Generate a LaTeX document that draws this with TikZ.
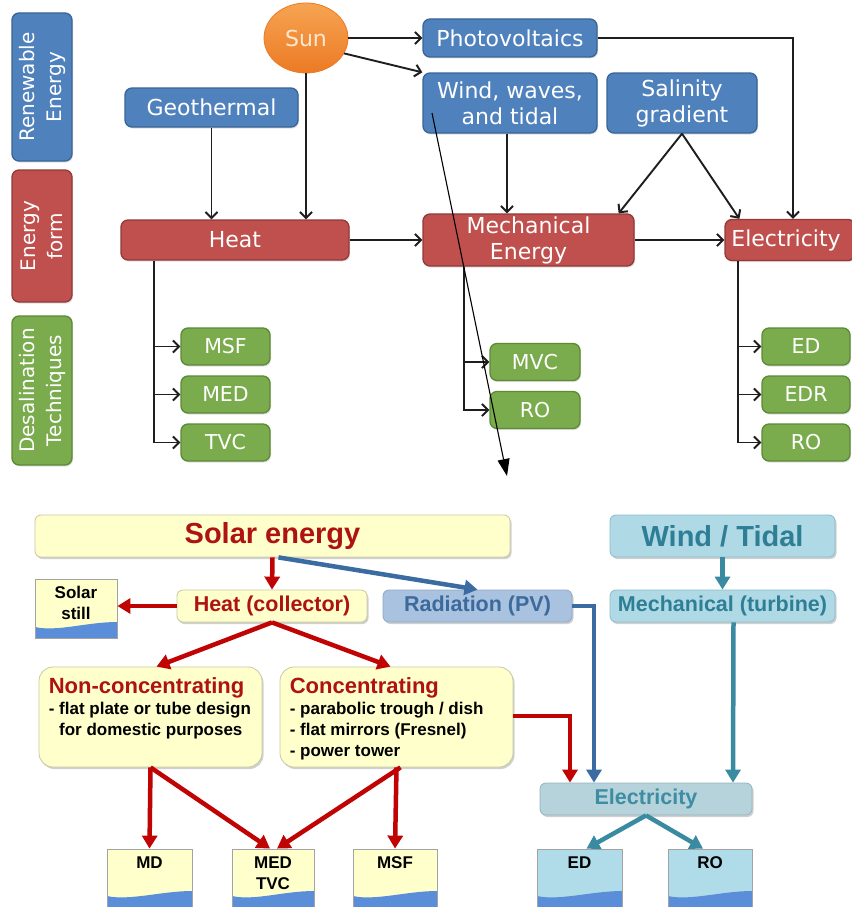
\documentclass[tikz,border=0pt]{standalone}
\usepackage{fontspec}
\setmainfont{Liberation Sans}
\newfontfamily\topfont{DejaVu Sans}
\usetikzlibrary{arrows.meta,calc,shapes.geometric,shadows}
\definecolor{tblue}{HTML}{4F81BD}
\definecolor{tblueD}{HTML}{3A6597}
\definecolor{tred}{HTML}{C0504D}
\definecolor{tredD}{HTML}{913A38}
\definecolor{tgreen}{HTML}{7AAB4C}
\definecolor{tgreenD}{HTML}{5C8A35}
\definecolor{sunA}{HTML}{F6A452}
\definecolor{sunB}{HTML}{EC7A24}
\definecolor{sunT}{HTML}{FDE8D2}
\definecolor{tline}{HTML}{1E1E1E}
\definecolor{yfill}{HTML}{FFFFCC}
\definecolor{yborder}{HTML}{C8C8A4}
\definecolor{dred}{HTML}{AE1212}
\definecolor{arred}{HTML}{C00404}
\definecolor{radfill}{HTML}{A9C2DF}
\definecolor{radborder}{HTML}{8DA7C6}
\definecolor{radtext}{HTML}{3C6A9C}
\definecolor{arblue}{HTML}{3A6CA2}
\definecolor{cyfill}{HTML}{AFD9E5}
\definecolor{cyborder}{HTML}{8CBCC9}
\definecolor{cytext}{HTML}{2E7E95}
\definecolor{arteal}{HTML}{3A8BA1}
\definecolor{elfill}{HTML}{B6D2DA}
\definecolor{elborder}{HTML}{94B3BD}
\definecolor{eltext}{HTML}{3D8DA3}
\definecolor{docblue}{HTML}{B0DCE9}
\definecolor{docborder}{HTML}{A3A3A3}
\definecolor{wavec}{HTML}{5A8ED8}
\tikzset{
  tbox/.style={rounded corners=7pt, inner sep=0pt, line width=1.3pt, text=white,
    font=\topfont\fontsize{22}{26}\selectfont, align=center,
    drop shadow={shadow xshift=1pt, shadow yshift=-1.5pt, opacity=0.2, fill=black!60}},
  blueb/.style={tbox, fill=tblue, draw=tblueD},
  redb/.style={tbox, fill=tred, draw=tredD},
  greenb/.style={tbox, fill=tgreen, draw=tgreenD, font=\topfont\fontsize{20.5}{24}\selectfont},
  sideb/.style={tbox, rotate=90, font=\topfont\fontsize{20}{27}\selectfont},
  tarr/.style={draw=tline, line width=1.9pt, -{Straight Barb[length=6pt,width=12pt,line width=2pt]}},
  thinarr/.style={draw=black, line width=1.1pt, -{Triangle[length=17pt,width=12pt]}},
  ybox/.style={rounded corners=6pt, inner sep=0pt, fill=yfill, draw=yborder, line width=0.8pt,
    drop shadow={shadow xshift=1.5pt, shadow yshift=-2pt, opacity=0.3, fill=black!60}},
  bigbox/.style={ybox, rounded corners=14pt},
  radb/.style={ybox, fill=radfill, draw=radborder, text=radtext},
  cyb/.style={ybox, fill=cyfill, draw=cyborder, text=cytext},
  elb/.style={ybox, fill=elfill, draw=elborder, text=eltext},
  rarr/.style={draw=arred, line width=4.5pt, -{Triangle[length=13pt,width=15pt]}},
  barr/.style={rarr, draw=arblue},
  carr/.style={rarr, draw=arteal},
  docb/.style={draw=docborder, line width=0.8pt, inner sep=0pt, fill=yfill,
    path picture={\fill[wavec] ([yshift=11pt]path picture bounding box.south west)
      .. controls +(22,5) and +(-30,0) .. ([yshift=16pt]path picture bounding box.south east)
      |- (path picture bounding box.south west) -- cycle;}},
  doctext/.style={inner sep=0pt, anchor=north, font=\bfseries\fontsize{17}{21}\selectfont, align=center},
}
\begin{document}
\begin{tikzpicture}[x=1pt,y=-1pt]
\useasboundingbox[fill=white] (0,0) rectangle (851,907);

% ---------------- top diagram ----------------
\node[sideb, fill=tblue, draw=tblueD, minimum width=148pt, minimum height=60pt] (re) at (42,87) {Renewable\\Energy};
\node[sideb, fill=tred, draw=tredD, minimum width=132pt, minimum height=60pt] (ef) at (42,236) {Energy\\form};
\node[sideb, fill=tgreen, draw=tgreenD, minimum width=149pt, minimum height=60pt] (dt) at (42,390.5) {Desalination\\Techniques};

\node[ellipse, inner sep=0pt, minimum width=84pt, minimum height=70pt, top color=sunA, bottom color=sunB,
  draw=sunB, line width=0.8pt, text=sunT, font=\topfont\fontsize{22}{26}\selectfont] (sun) at (306,38) {Sun};
\node[blueb, minimum width=173pt, minimum height=39pt] (geo) at (211.5,107.5) {Geothermal};
\node[blueb, minimum width=174pt, minimum height=38pt] (pv) at (510,38) {Photovoltaics};
\node[blueb, minimum width=174pt, minimum height=60pt] (wind) at (510,103) {Wind, waves,\\and tidal};
\node[blueb, minimum width=150pt, minimum height=60pt] (sal) at (682,103) {Salinity\\gradient};

\node[redb, minimum width=228pt, minimum height=40pt] (heat) at (235,240) {Heat};
\node[redb, minimum width=211pt, minimum height=52pt] (mech) at (528.5,240) {Mechanical\\Energy};
\node[redb, minimum width=130pt, minimum height=41pt] (elec) at (790,240) {\hspace*{-8pt}Electricity};

\node[greenb, minimum width=89pt, minimum height=37pt] (msf) at (225.5,346.5) {MSF};
\node[greenb, minimum width=89pt, minimum height=37pt] (med) at (225.5,394.5) {MED};
\node[greenb, minimum width=89pt, minimum height=37pt] (tvc) at (225.5,442.5) {TVC};
\node[greenb, minimum width=90pt, minimum height=37pt] (mvc) at (535,362) {MVC};
\node[greenb, minimum width=90pt, minimum height=37pt] (roa) at (535,410) {RO};
\node[greenb, minimum width=88pt, minimum height=37pt] (ed) at (806,346.5) {ED};
\node[greenb, minimum width=88pt, minimum height=37pt] (edr) at (806,394.5) {EDR};
\node[greenb, minimum width=88pt, minimum height=37pt] (rob) at (806,442.5) {RO};

\draw[tarr] (sun.east) -- (pv.west);
\draw[tarr] (sun.-22) -- (wind.north west);
\draw[tarr] (sun.south) -- (sun.south |- heat.north);
\draw[tarr] (geo.south) -- (geo.south |- heat.north);
\draw[tarr] ($(wind.south)+(-3,0)$) -- ($(wind.south |- mech.north)+(-3,0)$);
\draw[tarr] (sal.south) -- ($(mech.north east)+(-16,0)$);
\draw[tarr] (sal.south) -- ($(elec.north west)+(15,0)$);
\draw[tarr] (pv.east) -| ($(elec.north)+(3,0)$);
\draw[tarr] (heat.east) -- (mech.west);
\draw[tarr] (mech.east) -- (elec.west);
\draw[tarr] ($(heat.south west)+(34,0)$) |- (msf.west);
\draw[tarr] ($(heat.south west)+(34,0)$) |- (med.west);
\draw[tarr] ($(heat.south west)+(34,0)$) |- (tvc.west);
\draw[tarr] ($(mech.south west)+(42,0)$) |- (mvc.west);
\draw[tarr] ($(mech.south west)+(42,0)$) |- (roa.west);
\draw[tarr] ($(elec.south west)+(14,0)$) |- (ed.west);
\draw[tarr] ($(elec.south west)+(14,0)$) |- (edr.west);
\draw[tarr] ($(elec.south west)+(14,0)$) |- (rob.west);

\coordinate (zs) at (432,113);
\coordinate (ze) at (507,476);
\draw[thinarr] (zs) -- (ze);

% ---------------- bottom diagram ----------------
\node[ybox, minimum width=475pt, minimum height=42pt, text=dred, font=\bfseries\fontsize{29}{32}\selectfont] (solar) at (272.5,536) {Solar energy};
\node[cyb, minimum width=225pt, minimum height=42pt, font=\bfseries\fontsize{29}{32}\selectfont] (wt) at (722.5,536) {Wind / Tidal};
\node[ybox, minimum width=190pt, minimum height=32pt, text=dred, font=\bfseries\fontsize{21.5}{24}\selectfont] (hc) at (272,606) {Heat (collector)};
\node[radb, minimum width=189pt, minimum height=32pt, font=\bfseries\fontsize{21.5}{24}\selectfont] (rad) at (477.5,606) {Radiation (PV)};
\node[cyb, minimum width=225pt, minimum height=32pt, font=\bfseries\fontsize{21.5}{24}\selectfont] (mt) at (722.5,606) {Mechanical (turbine)};
\node[bigbox, minimum width=223pt, minimum height=100pt] (nonc) at (150.5,717) {};
\node[bigbox, minimum width=233pt, minimum height=100pt] (conc) at (396.5,717) {};
\node[elb, minimum width=212pt, minimum height=32pt, font=\bfseries\fontsize{21.5}{24}\selectfont] (belec) at (646,799) {Electricity};

\node[inner sep=0pt, anchor=north west, align=left, font=\bfseries\fontsize{17}{21}\selectfont] (nonct)
  at ($(nonc.north west)+(10,11)$) {{\fontsize{22}{23}\selectfont\color{dred}Non-concentrating}\\- flat plate or tube design\\\hphantom{- }for domestic purposes};
\node[inner sep=0pt, anchor=north west, align=left, font=\bfseries\fontsize{17}{21}\selectfont] (conct)
  at ($(conc.north west)+(10,11)$) {{\fontsize{22}{23}\selectfont\color{dred}Concentrating}\\- parabolic trough / dish\\- flat mirrors (Fresnel)\\- power tower};

\node[docb, minimum width=82pt, minimum height=59pt] (still) at (76,608.5) {};
\node[doctext] (stillt) at ($(still.north)+(0,7)$) {Solar\\still};
\node[docb, minimum width=85pt, minimum height=58pt] (md) at (149.5,878) {};
\node[doctext] (mdt) at ($(md.north)+(0,8)$) {MD};
\node[docb, minimum width=82pt, minimum height=58pt] (medtvc) at (273,878) {};
\node[doctext] (medtvct) at ($(medtvc.north)+(0,8)$) {MED\\TVC};
\node[docb, minimum width=84pt, minimum height=58pt] (msfb) at (395,878) {};
\node[doctext] (msfbt) at ($(msfb.north)+(0,8)$) {MSF};
\node[docb, fill=docblue, minimum width=85pt, minimum height=58pt] (edb) at (579.5,878) {};
\node[doctext] (edbt) at ($(edb.north)+(0,8)$) {ED};
\node[docb, fill=docblue, minimum width=84pt, minimum height=58pt] (roc) at (710,878) {};
\node[doctext] (roct) at ($(roc.north)+(0,8)$) {RO};

\draw[rarr] (solar.south) -- (hc.north);
\draw[barr] ($(solar.south)+(6,0)$) -- (rad.north);
\draw[carr] (wt.south) -- (mt.north);
\draw[rarr] (hc.west) -- (still.east |- hc.west);
\draw[rarr] (hc.south) -- ($(nonc.north)+(6,0)$);
\draw[rarr] (hc.south) -- ($(conc.north)+(-6,0)$);
\draw[rarr] ($(conc.east)+(0,-1)$) -| ($(belec.north)+(-76,0)$);
\draw[barr] (rad.east) -| ($(belec.north)+(-52,0)$);
\draw[carr] ($(mt.south)+(11,0)$) -- ($(belec.north)+(87,0)$);
\draw[rarr] (nonc.south) -- (md.north);
\draw[rarr] (nonc.south) -- ($(medtvc.north)+(-3,0)$);
\draw[rarr] ($(conc.south)+(4,0)$) -- ($(medtvc.north)+(4,0)$);
\draw[rarr] (conc.south) -- (msfb.north);
\draw[carr] (belec.south) -- ($(edb.north)+(7,0)$);
\draw[carr] (belec.south) -- ($(roc.north)+(-7,0)$);
\end{tikzpicture}
\end{document}
